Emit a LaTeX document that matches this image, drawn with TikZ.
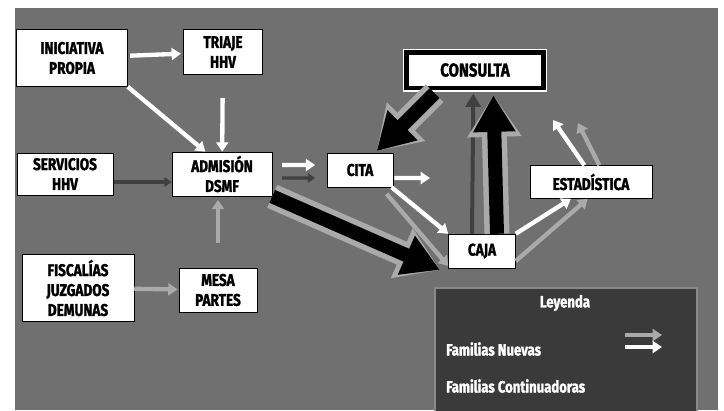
\documentclass[tikz,border=0pt]{standalone}
\usepackage{fontspec}
\setmainfont{Fira Sans}[FakeStretch=0.8,BoldFeatures={FakeBold=1.5}]
\usetikzlibrary{arrows.meta}
\definecolor{fondo}{RGB}{112,112,112}
\definecolor{fondoley}{RGB}{58,58,58}
\definecolor{gris}{RGB}{170,170,170}
\tikzset{
  caja/.style={draw=black,fill=white,align=center,font=\fontsize{14.5}{17}\selectfont\bfseries},
  nueva/.style={draw=white,line width=0.13cm,-{Triangle[length=0.28cm,width=0.36cm]}},
  cont/.style={draw=gris,line width=0.13cm,-{Triangle[length=0.28cm,width=0.36cm]}},
  oscura/.style={draw=black!75,line width=0.1cm,-{Triangle[length=0.22cm,width=0.28cm]}},
  gruesa/.style={preaction={draw=gris,line width=0.75cm,-{Triangle[length=1.25cm,width=1.55cm]}},
    draw=black,line width=0.42cm,-{Triangle[length=1.1cm,width=1.2cm]}},
  leytxt/.style={text=white,font=\fontsize{14}{15}\selectfont\bfseries}
}
\begin{document}
\begin{tikzpicture}[x=0.03cm,y=-0.03cm]
    \useasboundingbox (0,0) rectangle (724,410);
    \fill[white] (0,0) rectangle (724,410);
    \fill[fondo] (15,8) rectangle (718,410);
    % recuadro de la leyenda
    \draw[fondoley!60!white,fill=fondoley,line width=1pt] (435,288) rectangle (697,412);
    % cajas
    \node[caja,minimum width=3.33cm,minimum height=1.71cm] (inic) at (72,58) {INICIATIVA\\PROPIA};
    \node[caja,minimum width=2.37cm,minimum height=1.35cm] (triaje) at (223,52) {TRIAJE\\HHV};
    \node[caja,minimum width=2.88cm,minimum height=1.26cm] (serv) at (65,174) {SERVICIOS\\HHV};
    \node[caja,minimum width=3.0cm,minimum height=1.26cm] (adm) at (222,174) {ADMISIÓN\\DSMF};
    \node[caja,minimum width=1.98cm,minimum height=1.02cm] (cita) at (360,170) {CITA};
    \node[caja,draw=white,double=black,double distance=0.14cm,line width=0.04cm,
      minimum width=4.1cm,minimum height=1.07cm,font=\fontsize{16}{17}\selectfont\bfseries] (consulta) at (475,70) {CONSULTA};
    \node[caja,minimum width=3.66cm,minimum height=0.99cm] (estad) at (591,182) {ESTADÍSTICA};
    \node[caja,minimum width=2.01cm,minimum height=1.02cm] (cajanodo) at (482,251) {CAJA};
    \node[caja,minimum width=3.36cm,minimum height=2.01cm] (fisc) at (78,288) {FISCALÍAS\\JUZGADOS\\DEMUNAS};
    \node[caja,minimum width=2.34cm,minimum height=1.32cm] (mesa) at (218,290) {MESA\\PARTES};
    \coordinate (citaout) at (430,178);
    \coordinate (estblanco) at (553,120);
    \coordinate (estgris) at (578,123);
    % flechas
    \draw[nueva,shorten <=2pt,shorten >=2pt] (inic) -- (triaje);
    \draw[nueva,shorten <=0.7cm] (triaje) -- (adm);
    \draw[nueva] (inic.south east) -- ([xshift=-0.5cm]adm.north);
    \draw[oscura,shorten <=1pt] ([yshift=-0.24cm]serv.east) -- ([yshift=-0.24cm]adm.west);
    \draw[cont,shorten >=1pt] (fisc) -- (mesa);
    \draw[cont,shorten <=0.75cm,shorten >=3pt] (mesa) -- (mesa |- adm.south);
    \draw[nueva,shorten <=0.3cm,shorten >=0.35cm] ([yshift=0.27cm]adm.east) -- ([yshift=0.15cm]cita.west);
    \draw[oscura,shorten <=0.3cm,shorten >=0.35cm] ([yshift=-0.12cm]adm.east) -- ([yshift=-0.24cm]cita.west);
    \draw[nueva,shorten <=1pt] ([yshift=-0.24cm]cita.east) -- (citaout);
    \draw[gruesa,shorten <=0.2cm] ([xshift=1.0cm]consulta.south west) -- ([xshift=0.5cm,yshift=0.05cm]cita.north);
    \draw[gruesa] (adm.south east) -- ([yshift=-0.05cm,xshift=-0.25cm]cajanodo.south west);
    \draw[cont] ([xshift=-0.2cm,yshift=-0.2cm]cita.south east) -- ([yshift=-0.45cm]cajanodo.west);
    \draw[nueva] ([xshift=-0.05cm]cita.south east) -- (cajanodo.north west);
    \draw[draw=black!75,line width=0.12cm,-{Triangle[length=0.4cm,width=0.45cm]}]
      ([xshift=-0.3cm]cajanodo.north) -- ([xshift=-0.05cm,yshift=-0.15cm]consulta.south);
    \draw[gruesa] ([xshift=0.45cm]cajanodo.north) -- ([xshift=0.55cm,yshift=-0.2cm]consulta.south);
    \draw[cont] ([yshift=-0.3cm]cajanodo.east) -- ([xshift=-0.1cm]estad.south);
    \draw[nueva] (cajanodo.north east) -- ([xshift=-0.6cm]estad.south);
    \draw[cont] ([xshift=0.25cm]estad.north) -- (estgris);
    \draw[nueva] ([xshift=-0.2cm]estad.north) -- (estblanco);
    % leyenda
    \node[leytxt] (leyenda) at (565,303) {Leyenda};
    \node[leytxt,anchor=west] (nuevas) at (442,349) {Familias Nuevas};
    \node[leytxt,anchor=west] (contin) at (442,386) {Familias Continuadoras};
    \coordinate (leyA) at (625,335);
    \coordinate (leyB) at (662,335);
    \draw[cont,line width=0.1cm] (leyA) -- (leyB);
    \draw[nueva,line width=0.1cm] ([yshift=-0.36cm]leyA) -- ([yshift=-0.36cm]leyB);
\end{tikzpicture}
\end{document}
